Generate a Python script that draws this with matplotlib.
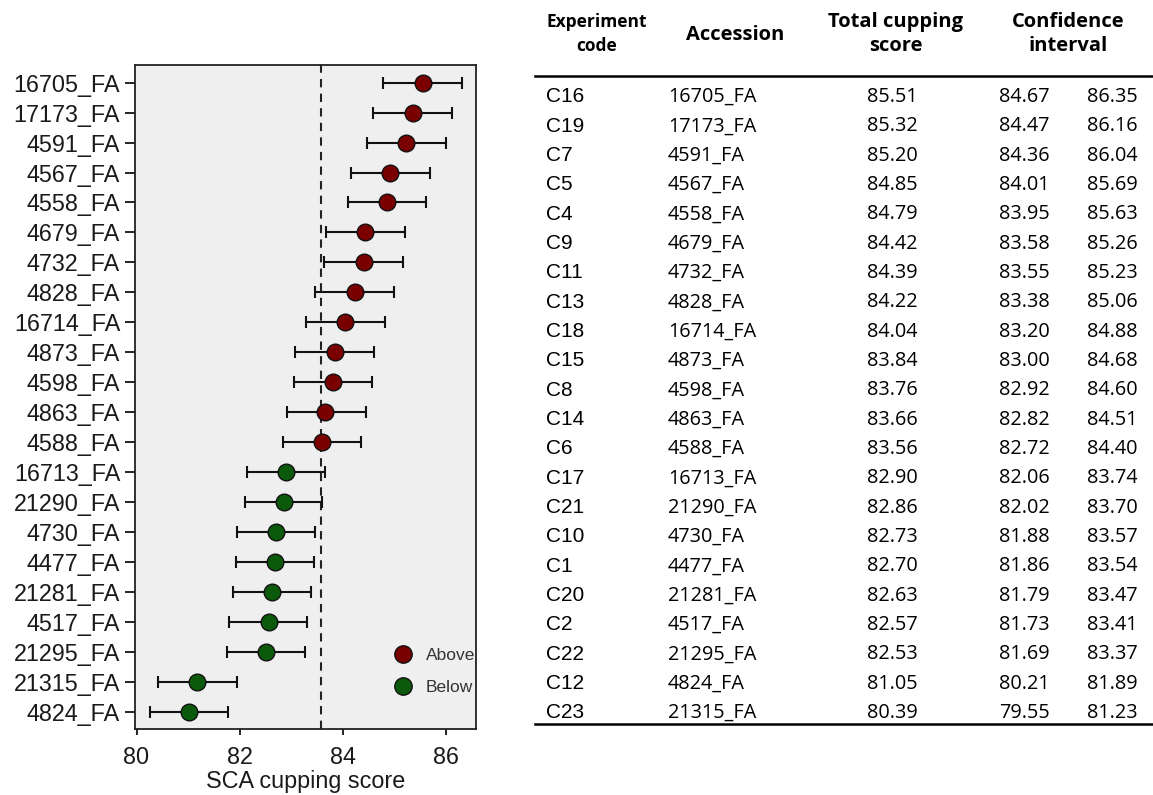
import matplotlib
matplotlib.use("Agg")
import matplotlib.pyplot as plt
from matplotlib.lines import Line2D

# --------------------------
# PLOT DATA (forest plot, top to bottom)
# --------------------------
plot_accessions = ['16705_FA', '17173_FA', '4591_FA', '4567_FA', '4558_FA', '4679_FA',
                   '4732_FA', '4828_FA', '16714_FA', '4873_FA', '4598_FA', '4863_FA',
                   '4588_FA', '16713_FA', '21290_FA', '4730_FA', '4477_FA', '21281_FA',
                   '4517_FA', '21295_FA', '21315_FA', '4824_FA']
plot_scores = [85.55, 85.35, 85.22, 84.91, 84.85, 84.43, 84.40, 84.23, 84.05, 83.85, 83.81,
               83.65, 83.59, 82.89, 82.85, 82.70, 82.69, 82.63, 82.56, 82.50, 81.18, 81.01]
plot_low = [84.78, 84.59, 84.47, 84.15, 84.09, 83.67, 83.64, 83.46, 83.29, 83.07, 83.05,
            82.92, 82.84, 82.14, 82.10, 81.95, 81.93, 81.86, 81.80, 81.75, 80.41, 80.26]
plot_high = [86.31, 86.12, 85.99, 85.68, 85.61, 85.20, 85.17, 84.99, 84.82, 84.60, 84.56,
             84.45, 84.36, 83.65, 83.59, 83.46, 83.44, 83.38, 83.31, 83.26, 81.94, 81.77]
plot_group = ['Above'] * 13 + ['Below'] * 9
mean_score = 83.58

# --------------------------
# TABLE DATA
# --------------------------
tab_codes = ['C16', 'C19', 'C7', 'C5', 'C4', 'C9', 'C11', 'C13', 'C18', 'C15', 'C8',
             'C14', 'C6', 'C17', 'C21', 'C10', 'C1', 'C20', 'C2', 'C22', 'C12', 'C23']
tab_accessions = ['16705_FA', '17173_FA', '4591_FA', '4567_FA', '4558_FA', '4679_FA',
                  '4732_FA', '4828_FA', '16714_FA', '4873_FA', '4598_FA', '4863_FA',
                  '4588_FA', '16713_FA', '21290_FA', '4730_FA', '4477_FA', '21281_FA',
                  '4517_FA', '21295_FA', '4824_FA', '21315_FA']
tab_scores = [85.51, 85.32, 85.20, 84.85, 84.79, 84.42, 84.39, 84.22, 84.04, 83.84, 83.76,
              83.66, 83.56, 82.90, 82.86, 82.73, 82.70, 82.63, 82.57, 82.53, 81.05, 80.39]
tab_ci_low = [84.67, 84.47, 84.36, 84.01, 83.95, 83.58, 83.55, 83.38, 83.20, 83.00, 82.92,
              82.82, 82.72, 82.06, 82.02, 81.88, 81.86, 81.79, 81.73, 81.69, 80.21, 79.55]
tab_ci_high = [86.35, 86.16, 86.04, 85.69, 85.63, 85.26, 85.23, 85.06, 84.88, 84.68, 84.60,
               84.51, 84.40, 83.74, 83.70, 83.57, 83.54, 83.47, 83.41, 83.37, 81.89, 81.23]

colors = {'Above': '#7a0000', 'Below': '#0b5a0b'}

plt.rcParams['font.family'] = ['Liberation Sans', 'DejaVu Sans']

W, H = 1153, 795
fig = plt.figure(figsize=(W / 100, H / 100), dpi=100)

# --------------------------
# FOREST PLOT
# --------------------------
ax = fig.add_axes([135 / W, 1 - 728.7 / H, 341 / W, 663.7 / H])
ax.set_facecolor('#efefef')
ypos = list(range(len(plot_accessions)))

ax.axvline(mean_score, color='#222222', linestyle=(0, (4, 3)), lw=1.5, zorder=1)
for i in ypos:
    c = plot_scores[i]
    ax.errorbar(c, i, xerr=[[c - plot_low[i]], [plot_high[i] - c]], fmt='none',
                ecolor='#111111', elinewidth=1.5, capsize=4, capthick=1.5, zorder=2)
    ax.plot(c, i, 'o', ms=12, mfc=colors[plot_group[i]], mec='#111111', mew=1.0, zorder=3)

ax.set_xlim(79.97, 86.58)
ax.set_ylim(21.57, -0.59)
ax.set_yticks(ypos)
ax.set_yticklabels(plot_accessions)
ax.set_xticks([80, 82, 84, 86])
ax.tick_params(axis='y', length=7.5, width=1.2, labelsize=16.8, pad=3.2, direction='out',
               labelcolor='#1a1a1a')
ax.tick_params(axis='x', length=4.5, width=1.2, labelsize=16.8, pad=8, direction='out',
               labelcolor='#1a1a1a')
ax.set_xlabel('SCA cupping score', fontsize=16.8, labelpad=1, color='#1a1a1a')
for s in ax.spines.values():
    s.set_linewidth(1.3)
    s.set_color('#222222')

handles = [Line2D([], [], ls='none', marker='o', ms=12.5, mfc=colors[g], mec='#111111',
                  mew=1.0, label=g) for g in ['Above', 'Below']]
ax.legend(handles=handles, loc='upper left', bbox_to_anchor=(0.735, 0.135),
          frameon=False, fontsize=12.5, handlelength=1, handletextpad=0.8,
          labelspacing=0.95, borderpad=0, labelcolor='#333333')

# --------------------------
# TABLE
# --------------------------
tax = fig.add_axes([0, 0, 1, 1])
tax.set_xlim(0, W)
tax.set_ylim(H, 0)
tax.axis('off')

seg = ['Open Sans', 'DejaVu Sans']
tax.text(597, 34, 'Experiment\ncode', ha='center', va='center', fontsize=12.5,
         fontweight='bold', family=seg, linespacing=1.4)
tax.text(735, 35, 'Accession', ha='center', va='center', fontsize=14.5,
         fontweight='bold', family=seg)
tax.text(896, 34, 'Total cupping\nscore', ha='center', va='center', fontsize=14.5,
         fontweight='bold', family=seg, linespacing=1.3)
tax.text(1068, 34, 'Confidence\ninterval', ha='center', va='center', fontsize=14.5,
         fontweight='bold', family=seg, linespacing=1.3)

tax.plot([535, 1153], [76, 76], color='black', lw=1.8)
tax.plot([535, 1153], [724, 724], color='black', lw=1.8)

for i in range(len(tab_codes)):
    y = 97 + i * 29.33
    tax.text(546, y, tab_codes[i], ha='left', va='center', fontsize=15)
    tax.text(668, y, tab_accessions[i], ha='left', va='center', fontsize=14.3, family=seg)
    tax.text(867, y, f'{tab_scores[i]:.2f}', ha='left', va='center', fontsize=14.3, family=seg)
    tax.text(999, y, f'{tab_ci_low[i]:.2f}', ha='left', va='center', fontsize=14.3, family=seg)
    tax.text(1087, y, f'{tab_ci_high[i]:.2f}', ha='left', va='center', fontsize=14.3, family=seg)

fig.savefig('out.png', dpi=100)
